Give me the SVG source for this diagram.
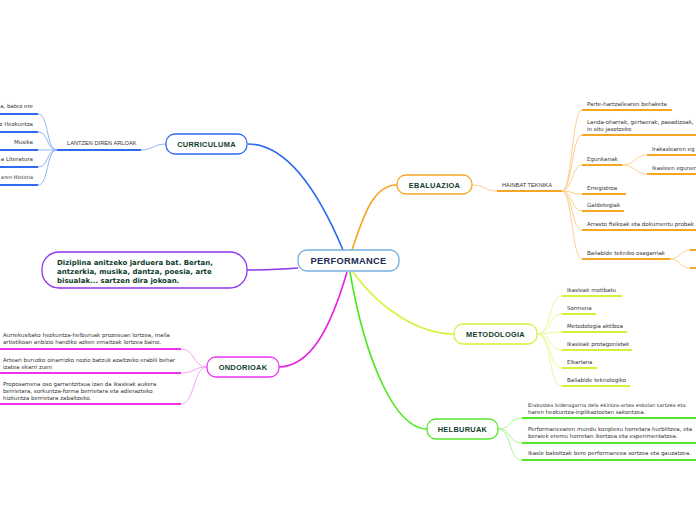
<svg xmlns="http://www.w3.org/2000/svg" width="696" height="520" viewBox="0 0 696 520">
<style>
.nt{font-family:"Liberation Sans",Arial,sans-serif;font-weight:bold;fill:#0e3d2c;text-anchor:middle}
.lt{font-family:"DejaVu Sans",Verdana,sans-serif;font-size:5.5px;fill:#333}
.cap{font-family:"Liberation Sans",Arial,sans-serif;font-size:5.7px;fill:#333}
.bt{font-family:"DejaVu Sans",Verdana,sans-serif;font-size:7px;font-weight:bold;fill:#0e3d2c}
.box{fill:#fff;stroke-width:1.3}
.main{fill:none;stroke-width:1.6}
.ul{fill:none;stroke-width:2}
.cv{fill:none;stroke-width:1}
</style>
<rect width="696" height="520" fill="#fff"/>
<g id="connectors">
<path class="main" stroke="#2f6bef" d="M343,250 C322,200 290,144 248,144"/>
<path class="main" stroke="#f7a428" d="M352,250 C365,210 375,185 397,185"/>
<path class="main" stroke="#9036e8" d="M298,268 C275,270 265,270 247,270"/>
<path class="main" stroke="#e61ee6" d="M347,272 C330,330 310,367 278,367"/>
<path class="main" stroke="#dcf03a" d="M353,272 C380,310 420,334 454,334"/>
<path class="main" stroke="#4be81f" d="M350,272 C365,360 395,429 427,429"/>
<!-- curriculum -->
<path class="cv" stroke="#8fb3f7" d="M141,150 C152,150 154,144 166,144"/>
<path class="ul" stroke="#2f6bef" d="M57,150 H141"/>
<g class="cv" stroke="#8fb3f7">
<path d="M57,150 C46,150 49,114 38,114"/>
<path d="M57,150 C46,150 49,132 38,132"/>
<path d="M57,150 H38"/>
<path d="M57,150 C46,150 49,167 38,167"/>
<path d="M57,150 C46,150 49,185 38,185"/>
</g>
<g class="ul" stroke="#2f6bef">
<path d="M0,114 H38"/><path d="M0,132 H38"/><path d="M0,150 H38"/><path d="M0,167 H38"/><path d="M0,185 H38"/>
</g>
<!-- ebaluazioa -->
<path class="cv" stroke="#fcd08a" d="M472,185 C485,185 485,191 497,191"/>
<path class="ul" stroke="#f5a623" d="M497,191 H562"/>
<g class="cv" stroke="#fcd08a">
<path d="M562,191 C572,191 572,110 582,110"/>
<path d="M562,191 C572,191 572,135 582,135"/>
<path d="M562,191 C572,191 572,165 582,165"/>
<path d="M562,191 C572,191 572,194 582,194"/>
<path d="M562,191 C572,191 572,211 582,211"/>
<path d="M562,191 C572,191 572,230 582,230"/>
<path d="M562,191 C572,191 572,259 582,259"/>
<path d="M622,165 C635,165 635,155 647,155"/>
<path d="M622,165 C635,165 635,174 647,174"/>
<path d="M670,259 C680,259 680,250 690,250"/>
<path d="M670,259 C680,259 680,268 690,268"/>
</g>
<g class="ul" stroke="#f5a623">
<path d="M582,110 H672"/><path d="M582,135 H696"/><path d="M582,165 H622"/>
<path d="M647,155 H696"/><path d="M647,174 H696"/>
<path d="M582,194 H626"/><path d="M582,211 H624"/><path d="M582,230 H696"/>
<path d="M582,259 H670"/><path d="M690,250 H696"/><path d="M690,268 H696"/>
</g>
<!-- metodologia -->
<g class="cv" stroke="#ecf89a">
<path d="M537,334 C552,334 548,296 562,296"/>
<path d="M537,334 C552,334 548,314 562,314"/>
<path d="M537,334 C552,334 548,332 562,332"/>
<path d="M537,334 C552,334 548,350 562,350"/>
<path d="M537,334 C552,334 548,368 562,368"/>
<path d="M537,334 C552,334 548,386 562,386"/>
</g>
<g class="ul" stroke="#d9f03a">
<path d="M562,296 H622"/><path d="M562,314 H596"/><path d="M562,332 H627"/>
<path d="M562,350 H632"/><path d="M562,368 H597"/><path d="M562,386 H630"/>
</g>
<!-- helburuak -->
<g class="cv" stroke="#a8f58a">
<path d="M498,429 C512,429 508,418 522,418"/>
<path d="M498,429 C512,429 508,443 522,443"/>
<path d="M498,429 C512,429 508,460 522,460"/>
</g>
<g class="ul" stroke="#55e82a">
<path d="M522,418 H696"/><path d="M522,443 H696"/><path d="M522,460 H696"/>
</g>
<!-- ondorioak -->
<g class="cv" stroke="#f5a0f5">
<path d="M207,367 C193,367 195,349 181,349"/>
<path d="M207,367 C193,367 195,373 181,373"/>
<path d="M207,367 C193,367 195,404 181,404"/>
</g>
<g class="ul" stroke="#ee33ee">
<path d="M0,349 H181"/><path d="M0,373 H181"/><path d="M0,404 H181"/>
</g>
</g>
<g id="performance">
<rect class="box" x="298" y="250" width="101" height="21" rx="9" stroke="#78aee0"/>
<text class="nt" x="348.5" y="264.3" font-size="9.3" style="fill:#1b2b4f" letter-spacing="0.3">PERFORMANCE</text>
</g>
<g id="curriculuma">
<rect class="box" x="166" y="134" width="81" height="20" rx="9" stroke="#2f6bef"/>
<text class="nt" x="206.5" y="146.8" font-size="7.4" letter-spacing="0.3">CURRICULUMA</text>
</g>
<g id="lantzen">
<text class="cap" x="67" y="145">LANTZEN DIREN ARLOAK</text>
<text class="lt" x="33" y="108" text-anchor="end">a, batez ere</text>
<text class="lt" x="33" y="126" text-anchor="end">z Hezkuntza</text>
<text class="lt" x="33" y="144" text-anchor="end">Musika</text>
<text class="lt" x="33" y="161" text-anchor="end">a Literatura</text>
<text class="lt" x="33" y="179" text-anchor="end" style="font-size:5px">aren Historia</text>
</g>
<g id="ebaluazioa">
<rect class="box" x="397" y="175" width="75" height="19" rx="9" stroke="#f5a623"/>
<text class="nt" x="434.5" y="187.5" font-size="7.4" letter-spacing="0.3">EBALUAZIOA</text>
</g>
<g id="hainbat">
<text class="cap" x="502" y="187">HAINBAT TEKNIKA</text>
<text class="lt" x="587" y="106">Parte-hartzailearen behaketa</text>
<text class="lt" x="587" y="124">Landa-oharrak, gertaerak, pasadizoak,</text>
<text class="lt" x="587" y="131">in situ jasotzeko</text>
<text class="lt" x="587" y="161">Egunkariak</text>
<text class="lt" x="652" y="151">Irakaslearen eg</text>
<text class="lt" x="652" y="170">Ikasleen eguner</text>
<text class="lt" x="587" y="190">Erregistroa</text>
<text class="lt" x="587" y="207">Galdetegiak</text>
<text class="lt" x="587" y="226">Arrasto fisikoak eta dokumentu probak</text>
<text class="lt" x="587" y="255">Baliabide tekniko osagarriak</text>
</g>
<g id="bubble">
<rect class="box" x="42" y="252" width="205" height="36" rx="17" stroke="#9036e8"/>
<text class="bt" x="57" y="265">Diziplina anitzeko jarduera bat. Bertan,</text>
<text class="bt" x="57" y="274">antzerkia, musika, dantza, poesia, arte</text>
<text class="bt" x="57" y="283">bisualak... sartzen dira jokoan.</text>
</g>
<g id="metodologia">
<rect class="box" x="454" y="324" width="83" height="20" rx="9" stroke="#d9f03a"/>
<text class="nt" x="495.5" y="337" font-size="7.4" letter-spacing="0.3">METODOLOGIA</text>
<text class="lt" x="567" y="292">Ikasleak motibatu</text>
<text class="lt" x="567" y="310">Sormena</text>
<text class="lt" x="567" y="328">Metodologia aktiboa</text>
<text class="lt" x="567" y="346">Ikasleak protagonistak</text>
<text class="lt" x="567" y="364">Elkarlana</text>
<text class="lt" x="567" y="382">Baliabide teknologiko</text>
</g>
<g id="helburuak">
<rect class="box" x="427" y="419" width="71" height="20" rx="9" stroke="#55e82a"/>
<text class="nt" x="462.5" y="432" font-size="7.4" letter-spacing="0.3">HELBURUAK</text>
<text class="lt" x="528" y="407" style="font-size:5.1px">Erakustea bideragarria dela ekintza-artea eskolan sartzea eta</text>
<text class="lt" x="528" y="414">haren hezkuntza-inplikazioetan sakontzea.</text>
<text class="lt" x="528" y="431">Performancearen mundu konplexu horretara hurbiltzea, eta</text>
<text class="lt" x="528" y="438">beraiek eremu horretan ikertzea eta esperimentatzea.</text>
<text class="lt" x="528" y="455">Ikasle bakoitzak bere performancea sortzea eta gauzatzea.</text>
</g>
<g id="ondorioak">
<rect class="box" x="207" y="357" width="72" height="20" rx="9" stroke="#ee33ee"/>
<text class="nt" x="243" y="370" font-size="7.4" letter-spacing="0.3">ONDORIOAK</text>
<text class="lt" x="3" y="337">Aurrekusitako hezkuntza-helburuak prozesuan lortzea, maila</text>
<text class="lt" x="3" y="344">artistikoan anbizio handiko azken emaitzak lortzea baino.</text>
<text class="lt" x="3" y="362">Arteari buruzko oinarrizko nozio batzuk azaltzeko erabili behar</text>
<text class="lt" x="3" y="369">izatea ekarri zuen</text>
<text class="lt" x="3" y="386">Proposamena oso garrantzitsua izan da ikasleak aukera</text>
<text class="lt" x="3" y="393">berrietara, sorkuntza-forma berrietara eta adierazteko</text>
<text class="lt" x="3" y="400">hizkuntza berrietara zabaltzeko.</text>
</g>
</svg>
